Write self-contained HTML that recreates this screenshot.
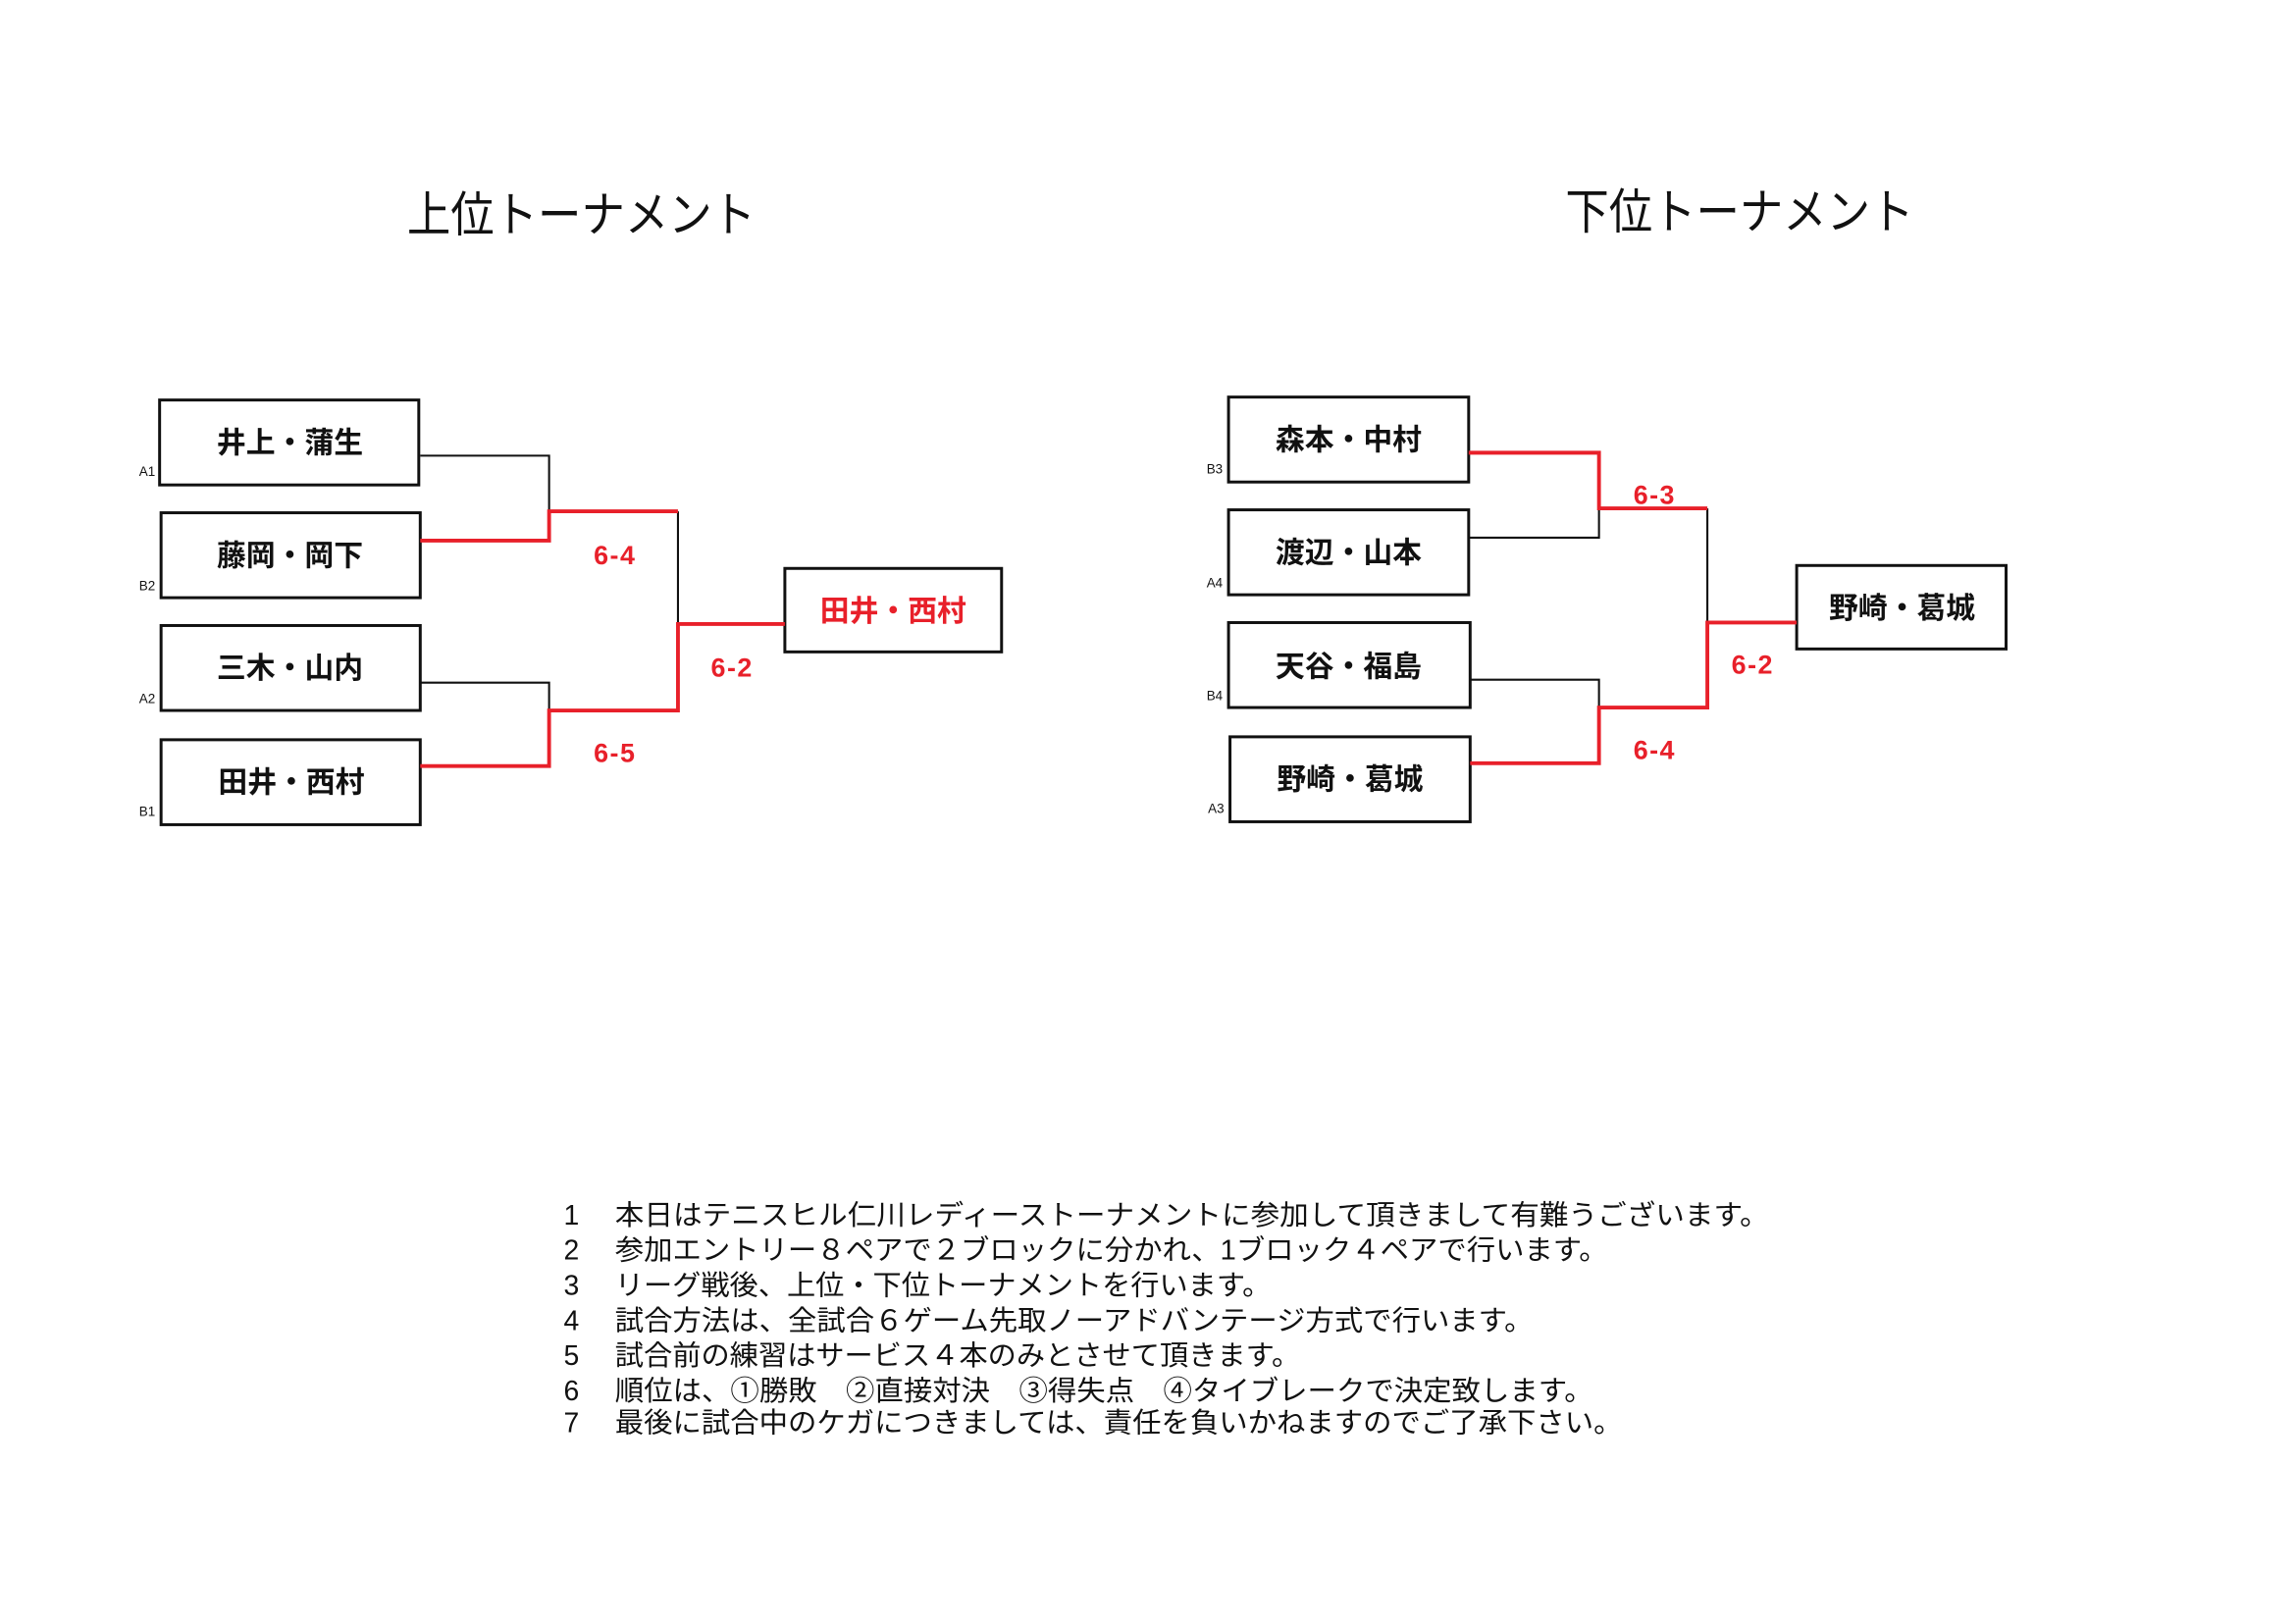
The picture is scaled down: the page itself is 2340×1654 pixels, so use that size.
<!DOCTYPE html>
<html><head><meta charset="utf-8"><style>
html,body{margin:0;padding:0;background:#fff;width:2340px;height:1654px;overflow:hidden}
svg{display:block}
text{font-family:"Liberation Sans","Noto Sans CJK JP",sans-serif}
.n{font-size:20px;font-weight:bold;text-anchor:middle;fill:#111}
.r{fill:#e8202a}
.s{font-size:18px;font-weight:bold;fill:#e8202a;text-anchor:middle;letter-spacing:1px}
.l{font-size:9px;fill:#111}
.t{font-size:19px;fill:#111}
</style></head><body>
<svg width="2340" height="1654" viewBox="0 0 1568 1108" xmlns="http://www.w3.org/2000/svg">
<rect width="1568" height="1108" fill="#fff"/>
<text x="278" y="158" font-size="33" textLength="238" lengthAdjust="spacingAndGlyphs" fill="#111">上位トーナメント</text>
<text x="1069" y="156" font-size="33" textLength="238" lengthAdjust="spacingAndGlyphs" fill="#111">下位トーナメント</text>

<g fill="none" stroke="#111" stroke-width="2">
<rect x="109" y="273" width="177" height="58"/>
<rect x="110" y="350" width="177" height="58"/>
<rect x="110" y="427" width="177" height="58"/>
<rect x="110" y="505" width="177" height="58"/>
<rect x="536" y="388" width="148" height="57"/>
<rect x="839" y="271" width="164" height="58"/>
<rect x="839" y="348" width="164" height="58"/>
<rect x="839" y="425" width="165" height="58"/>
<rect x="840" y="503" width="164" height="58"/>
<rect x="1227" y="386" width="143" height="57"/>
</g>
<g fill="none" stroke="#111" stroke-width="1.4">
<polyline points="287,311 375,311 375,349"/>
<polyline points="287,466 375,466 375,485"/>
<polyline points="463,349 463,426"/>
<polyline points="1003,367 1092,367 1092,347"/>
<polyline points="1004,464 1092,464 1092,483"/>
<polyline points="1166,347 1166,425"/>
</g>
<g fill="none" stroke="#e8202a" stroke-width="2.6">
<polyline points="287,369 375,369 375,349 463,349"/>
<polyline points="287,523 375,523 375,485 463,485 463,426 536,426"/>
<polyline points="1003,309 1092,309 1092,347 1166,347"/>
<polyline points="1004,521 1092,521 1092,483 1166,483 1166,425 1227,425"/>
</g>

<text class="n" x="198" y="309">井上・蒲生</text>
<text class="n" x="198" y="386">藤岡・岡下</text>
<text class="n" x="198" y="463">三木・山内</text>
<text class="n" x="199" y="541">田井・西村</text>
<text class="n r" x="610" y="424">田井・西村</text>
<text class="n" x="921" y="307">森本・中村</text>
<text class="n" x="921" y="384">渡辺・山本</text>
<text class="n" x="921" y="462">天谷・福島</text>
<text class="n" x="922" y="539">野崎・葛城</text>
<text class="n" x="1299" y="422">野崎・葛城</text>

<text class="l" x="95" y="325">A1</text>
<text class="l" x="95" y="403">B2</text>
<text class="l" x="95" y="480">A2</text>
<text class="l" x="95" y="557">B1</text>
<text class="l" x="824" y="323">B3</text>
<text class="l" x="824" y="401">A4</text>
<text class="l" x="824" y="478">B4</text>
<text class="l" x="825" y="555">A3</text>

<text class="s" x="420" y="385">6-4</text>
<text class="s" x="500" y="462">6-2</text>
<text class="s" x="420" y="520">6-5</text>
<text class="s" x="1130" y="344">6-3</text>
<text class="s" x="1197" y="460">6-2</text>
<text class="s" x="1130" y="518">6-4</text>

<g class="t">
<text x="385" y="836">1</text><text x="420" y="836" textLength="788" lengthAdjust="spacingAndGlyphs">本日はテニスヒル仁川レディーストーナメントに参加して頂きまして有難うございます。</text>
<text x="385" y="860">2</text><text x="420" y="860" textLength="678" lengthAdjust="spacingAndGlyphs">参加エントリー８ペアで２ブロックに分かれ、1ブロック４ペアで行います。</text>
<text x="385" y="884">3</text><text x="420" y="884" textLength="448" lengthAdjust="spacingAndGlyphs">リーグ戦後、上位・下位トーナメントを行います。</text>
<text x="385" y="908">4</text><text x="420" y="908" textLength="627" lengthAdjust="spacingAndGlyphs">試合方法は、全試合６ゲーム先取ノーアドバンテージ方式で行います。</text>
<text x="385" y="932">5</text><text x="420" y="932" textLength="468" lengthAdjust="spacingAndGlyphs">試合前の練習はサービス４本のみとさせて頂きます。</text>
<text x="385" y="956">6</text><text x="420" y="956" textLength="668" lengthAdjust="spacingAndGlyphs">順位は、①勝敗　②直接対決　③得失点　④タイブレークで決定致します。</text>
<text x="385" y="978">7</text><text x="420" y="978" textLength="688" lengthAdjust="spacingAndGlyphs">最後に試合中のケガにつきましては、責任を負いかねますのでご了承下さい。</text>
</g>
</svg>
</body></html>
